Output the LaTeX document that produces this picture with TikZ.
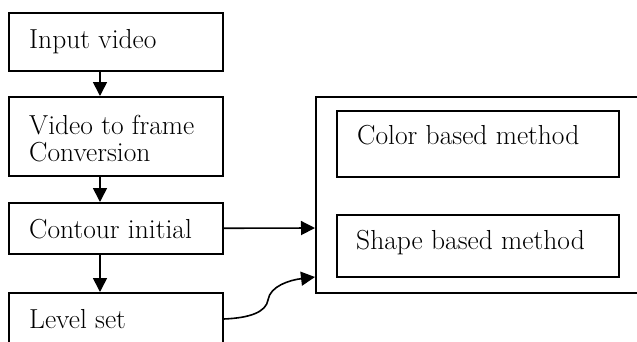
\documentclass[tikz,border=0pt]{standalone}
\usetikzlibrary{arrows.meta}
\begin{document}
\begin{tikzpicture}[x=1pt,y=-1pt,
  box/.style={draw,line width=1.5pt,rectangle,inner sep=0pt,anchor=north west},
  lbl/.style={anchor=base west,inner sep=0pt,font=\fontsize{27.5}{27}\selectfont,align=left},
  arr/.style={line width=1.6pt,-{Triangle[length=14pt,width=14pt]}}]
\useasboundingbox (0,0) rectangle (637,341);
\clip (0,0) rectangle (637,341);
\node[box,minimum width=214pt,minimum height=58pt] (b1) at (8,12) {};
\node[box,minimum width=214pt,minimum height=79pt] (b2) at (8,96) {};
\node[box,minimum width=214pt,minimum height=51pt] (b3) at (8,202) {};
\node[box,minimum width=214pt,minimum height=80pt] (b4) at (8,292) {};
\node[box,minimum width=340pt,minimum height=196pt] (big) at (315,96) {};
\node[box,minimum width=282pt,minimum height=66pt] (c1) at (336,110) {};
\node[box,minimum width=282pt,minimum height=62pt] (c2) at (336,214) {};
\node[lbl] (t1) at (29,48) {Input video};
\node[lbl] (t2) at (29,161) {Video to frame\\Conversion};
\node[lbl] (t3) at (29,238) {Contour initial};
\node[lbl] (t4) at (29,328) {Level set};
\node[lbl] (t5) at (357,144) {Color based method};
\node[lbl] (t6) at (356,249) {Shape based method};
\coordinate (p3) at (315,228);
\coordinate (p4) at (315,277);
\draw[arr] (b1.south -| 100,0) -- (b2.north -| 100,0);
\draw[arr] (b2.south -| 100,0) -- (b3.north -| 100,0);
\draw[arr] (b3.south -| 100,0) -- (b4.north -| 100,0);
\draw[arr] (b3.east) -- (p3);
\draw[arr] (b4.east |- 0,319) .. controls (250,318) and (266,312) .. (268,300) .. controls (270,286) and (290,280) .. (p4);
\end{tikzpicture}
\end{document}
